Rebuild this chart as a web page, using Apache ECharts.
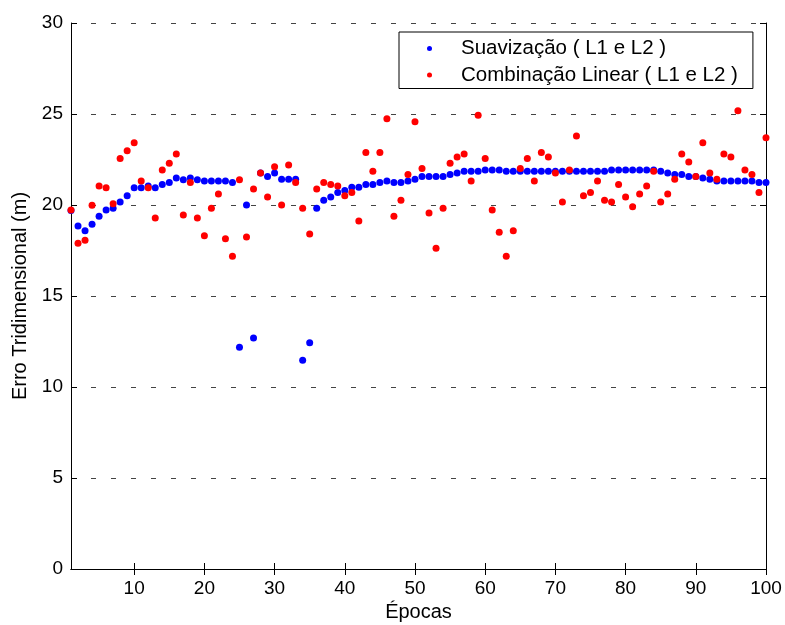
<!DOCTYPE html>
<html>
<head>
<meta charset="utf-8">
<title>Erro Tridimensional</title>
<script src="https://cdn.jsdelivr.net/npm/echarts@6/dist/echarts.min.js"></script>
<style>
  html, body { margin: 0; padding: 0; background: #fff; }
  #main { width: 785px; height: 625px; }
</style>
</head>
<body>
<div id="main"></div>
<script>
// valores (época 1..100)
var suavizacao = [
  19.7, 18.85, 18.59, 18.94, 19.38, 19.73, 19.82, 20.16, 20.51, 20.95,
  20.95, 21.04, 20.95, 21.13, 21.23, 21.48, 21.39, 21.48, 21.39, 21.32,
  21.32, 21.32, 21.32, 21.23, 12.18, 20.0, 12.69, 21.76, 21.57, 21.76,
  21.41, 21.41, 21.41, 11.47, 12.43, 19.82, 20.26, 20.44, 20.69, 20.79,
  20.97, 20.97, 21.13, 21.13, 21.23, 21.32, 21.23, 21.23, 21.32, 21.41,
  21.57, 21.57, 21.57, 21.57, 21.67, 21.76, 21.85, 21.85, 21.85, 21.92,
  21.92, 21.92, 21.85, 21.85, 21.85, 21.85, 21.85, 21.85, 21.85, 21.85,
  21.85, 21.85, 21.85, 21.85, 21.85, 21.85, 21.85, 21.92, 21.92, 21.92,
  21.92, 21.92, 21.92, 21.92, 21.85, 21.76, 21.67, 21.67, 21.57, 21.57,
  21.48, 21.41, 21.32, 21.32, 21.32, 21.32, 21.32, 21.32, 21.23, 21.23
];
var combinacao = [
  19.73, 17.9, 18.06, 19.98, 21.04, 20.95, 20.07, 22.55, 22.98, 23.42,
  21.32, 20.95, 19.29, 21.92, 22.29, 22.8, 19.45, 21.23, 19.29, 18.31,
  19.82, 20.6, 18.15, 17.18, 21.39, 18.24, 20.88, 21.76, 20.44, 22.1,
  20.0, 22.2, 21.23, 19.82, 18.41, 20.88, 21.23, 21.13, 21.04, 20.51,
  20.69, 19.12, 22.89, 21.85, 22.89, 24.74, 19.38, 20.26, 21.67, 24.58,
  22.01, 19.56, 17.62, 19.82, 22.29, 22.64, 22.8, 21.32, 24.93, 22.55,
  19.73, 18.5, 17.18, 18.59, 22.01, 22.55, 21.32, 22.89, 22.64, 21.76,
  20.16, 21.92, 23.79, 20.51, 20.69, 21.32, 20.26, 20.16, 21.13, 20.44,
  19.91, 20.6, 21.04, 21.85, 20.16, 20.6, 21.41, 22.8, 22.36, 21.57,
  23.42, 21.76, 21.41, 22.8, 22.64, 25.18, 21.92, 21.67, 20.69, 23.7
];
var xTicks = [10, 20, 30, 40, 50, 60, 70, 80, 90, 100];
var nomes = ['Suavização ( L1 e L2 )', 'Combinação Linear ( L1 e L2 )'];

function pontos(arr) {
  return arr.map(function (v, i) { return [i + 1, v]; });
}

var fonte = "'Liberation Sans', Arial, sans-serif";
var linha = { show: true, lineStyle: { color: '#000', width: 1 } };

var myChart = echarts.init(document.getElementById('main'));
myChart.setOption({
  animation: false,
  backgroundColor: '#fff',
  textStyle: { fontFamily: fonte, color: '#000' },
  grid: { left: 71, right: 19, top: 23, bottom: 56, containLabel: false, outerBoundsMode: 'none' },
  legend: {
    data: nomes,
    orient: 'vertical',
    left: 399,
    top: 32,
    padding: [6, 15, 3, 28],
    itemGap: 5.5,
    itemWidth: 5,
    itemHeight: 5,
    icon: 'circle',
    selectedMode: false,
    borderColor: '#000',
    borderWidth: 1,
    backgroundColor: '#fff',
    formatter: '{t|{name}}',
    textStyle: {
      fontSize: 20.5, fontFamily: fonte, color: '#000',
      rich: { t: { fontSize: 20.5, fontFamily: fonte, color: '#000', padding: [0, 0, 0, 24] } }
    }
  },
  xAxis: [{
    type: 'value',
    min: 1,
    max: 100,
    name: 'Épocas',
    nameLocation: 'middle',
    nameGap: 33,
    nameTextStyle: { fontSize: 20, fontFamily: fonte, color: '#000' },
    axisLine: linha,
    axisTick: { inside: true, length: 6, customValues: xTicks, lineStyle: { color: '#000' } },
    axisLabel: { customValues: xTicks, fontSize: 19, color: '#000', margin: 10 },
    splitLine: { show: false }
  }, {
    type: 'value',
    position: 'top',
    min: 1,
    max: 100,
    axisLine: linha,
    axisTick: { inside: true, length: 6, customValues: xTicks, lineStyle: { color: '#000' } },
    axisLabel: { show: false },
    splitLine: { show: false }
  }],
  yAxis: [{
    type: 'value',
    min: 0,
    max: 30,
    interval: 5,
    name: 'Erro Tridimensional (m)',
    nameLocation: 'middle',
    nameGap: 40,
    nameTextStyle: { fontSize: 20, fontFamily: fonte, color: '#000' },
    axisLine: linha,
    axisTick: { inside: true, length: 6, lineStyle: { color: '#000' } },
    axisLabel: { fontSize: 19, color: '#000', margin: 8 },
    splitLine: { show: true, lineStyle: { color: '#444', type: [5, 15], width: 1 } }
  }, {
    type: 'value',
    position: 'right',
    min: 0,
    max: 30,
    interval: 5,
    axisLine: linha,
    axisTick: { inside: true, length: 6, lineStyle: { color: '#000' } },
    axisLabel: { show: false },
    splitLine: { show: false }
  }],
  series: [{
    name: nomes[0],
    type: 'scatter',
    symbol: 'circle',
    symbolSize: 7,
    itemStyle: { color: '#0000ff', opacity: 1 },
    data: pontos(suavizacao),
    z: 2
  }, {
    name: nomes[1],
    type: 'scatter',
    symbol: 'circle',
    symbolSize: 7,
    itemStyle: { color: '#ff0000', opacity: 1 },
    data: pontos(combinacao),
    z: 3
  }]
});
</script>
</body>
</html>
